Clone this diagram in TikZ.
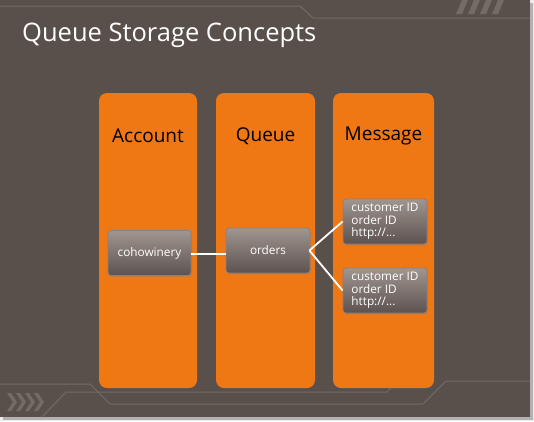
\documentclass[tikz,border=0pt]{standalone}
\usepackage{fontspec}
\setmainfont{Open Sans}
\usetikzlibrary{shadows}
\definecolor{slidebg}{HTML}{5A504B}
\definecolor{deco}{HTML}{756B66}
\definecolor{colorange}{HTML}{EF7815}
\definecolor{boxtop}{HTML}{A0958F}
\definecolor{boxbot}{HTML}{5C5250}
\definecolor{boxedge}{HTML}{8A807C}
\tikzset{
  column/.style={fill=colorange, rounded corners=8pt},
  colhead/.style={font=\fontsize{19}{22}\selectfont, text=black},
  item/.style={draw=boxedge, line width=0.8pt, rounded corners=3pt, top color=boxtop, bottom color=boxbot,
    text=white, font=\fontsize{11.8}{12.4}\selectfont, drop shadow={opacity=0.35, shadow xshift=1pt, shadow yshift=-1.5pt}},
  link/.style={draw=white, line width=1.8pt},
  decoline/.style={draw=deco, line width=1pt},
}
\begin{document}
\begin{tikzpicture}[x=1pt, y=-1pt]
\useasboundingbox (0,0) rectangle (534,421);
\fill[white!85!gray] (0,0) rectangle (534,421);
\fill[gray!60] (3,3) rectangle (533,420);
\fill[slidebg] (0,0) rectangle (530,417);
% top decoration
\draw[decoline] (0,6) -- (300,6) -- (313,18) -- (530,18);
\foreach \i in {0,1,2,3} {
  \fill[deco] ({462+\i*12},0) -- ({468+\i*12},0) -- ({462+\i*12},14) -- ({456+\i*12},14) -- cycle;
}
% title
\node[anchor=base west, text=white, font=\fontsize{25.5}{30}\selectfont, inner sep=0pt] (title) at (22,41) {Queue Storage Concepts};
% columns
\fill[column] (99,93) rectangle (197,388);
\fill[column] (216,93) rectangle (315,388);
\fill[column] (333,93) rectangle (434,388);
\node[colhead] (h1) at (148,136) {Account};
\node[colhead] (h2) at (265.5,136) {Queue};
\node[colhead] (h3) at (383.5,136) {Message};
% bottom decoration
\draw[decoline] (0,384) -- (90,384) -- (110,404) -- (423,404) -- (446,381) -- (530,381);
\draw[decoline] (42,417) -- (66,392) -- (387,392) -- (391,388);
\foreach \i in {0,1,2,3} {
  \fill[deco] ({7+\i*9},393) -- ({11+\i*9},393) -- ({17+\i*9},402) -- ({11+\i*9},411) -- ({7+\i*9},411) -- ({13+\i*9},402) -- cycle;
}
% items
\node[item, minimum width=83pt, minimum height=45pt, inner sep=0pt] (acct) at (149.5,253) {cohowinery};
\node[item, minimum width=84pt, minimum height=45pt, inner sep=0pt] (queue) at (268,250.5) {orders};
\node[item, minimum width=84pt, minimum height=45pt, inner sep=0pt, align=left] (m1) at (385,221.5) {customer ID\\order ID\\http://...};
\node[item, minimum width=84pt, minimum height=45pt, inner sep=0pt, align=left] (m2) at (385,290.5) {customer ID\\order ID\\http://...};
\coordinate (qr) at ([xshift=-1pt]queue.east);
\coordinate (al) at ([yshift=-1pt]acct.east);
\draw[link] (al) -- (al -| queue.west);
\draw[link] (qr) -- (m1.west);
\draw[link] (qr) -- (m2.west);
\end{tikzpicture}
\end{document}
